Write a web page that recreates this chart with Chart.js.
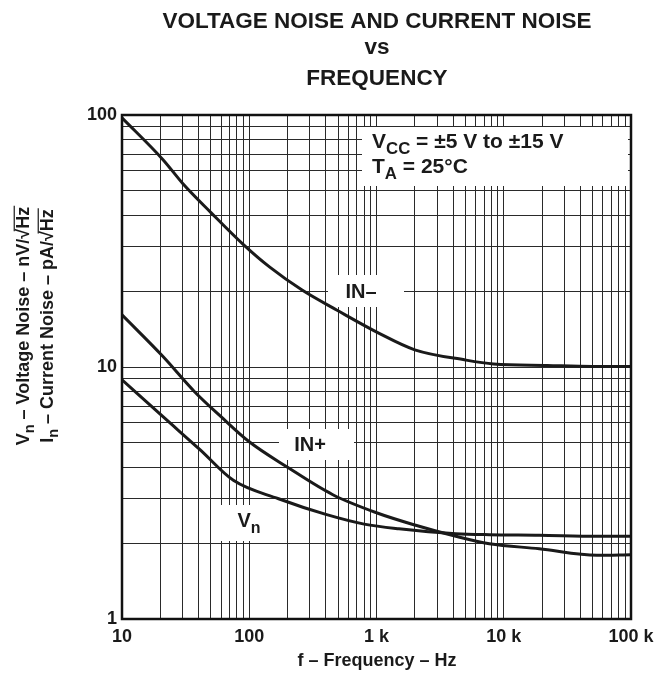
<!DOCTYPE html>
<html>
<head>
<meta charset="utf-8">
<script src="https://cdn.jsdelivr.net/npm/chart.js@4.4.1/dist/chart.umd.min.js"></script>
<style>
  html, body { margin: 0; padding: 0; background: #fff; }
  #wrap { width: 665px; height: 679px; }
</style>
</head>
<body>
<div id="wrap"><canvas id="chart" width="665" height="679"></canvas></div>
<script>
const FONT = '"Liberation Sans", Arial, Helvetica, sans-serif';

// axis ticks (labels only at decades)
const X_TICKS = [10, 100, 1000, 10000, 100000];
const X_LABELS = ["10", "100", "1 k", "10 k", "100 k"];
const Y_TICKS = [1, 10, 100];
const Y_LABELS = ["1", "10", "100"];

// IN- current noise, pA/rtHz
const IN_MINUS_F = [10, 21, 30, 50, 90, 145, 260, 490, 1050, 2000, 5000, 8300, 22000, 50000, 100000];
const IN_MINUS_V = [97.5, 66.5, 53.5, 41, 30.6, 24.9, 20.2, 16.8, 13.6, 11.7, 10.66, 10.28, 10.14, 10.05, 10.05];

// IN+ current noise, pA/rtHz
const IN_PLUS_F = [10, 21, 37, 60, 100, 200, 450, 1000, 2000, 4200, 7700, 19000, 54000, 100000];
const IN_PLUS_V = [16.1, 11.0, 8.0, 6.35, 5.05, 4.0, 3.12, 2.64, 2.36, 2.13, 1.99, 1.9, 1.79, 1.8];

// Vn voltage noise, nV/rtHz
const VN_F = [10, 21, 41, 75, 170, 400, 800, 1500, 4200, 7700, 19000, 54000, 100000];
const VN_V = [8.9, 6.35, 4.7, 3.55, 3.0, 2.6, 2.38, 2.28, 2.18, 2.16, 2.15, 2.13, 2.13];

/* ---------- helpers ---------- */

function toPoints(fs, vs) {
  return fs.map((f, i) => ({ x: f, y: vs[i] }));
}

// 1..9 x each decade between lo and hi
function logGrid(lo, hi) {
  const out = [];
  for (let d = lo; d < hi; d *= 10) {
    for (let m = 1; m < 10; m++) out.push(m * d);
  }
  out.push(hi);
  return out;
}

// text run with subscripts and an overline for the root sign
function richWidth(ctx, parts, size) {
  let w = 0;
  parts.forEach((p) => {
    ctx.font = `bold ${p.sub ? size * 0.8 : size}px ${FONT}`;
    w += ctx.measureText(p.t).width;
  });
  return w;
}

function drawRich(ctx, parts, x, y, size, align) {
  const total = richWidth(ctx, parts, size);
  let cx = align === "center" ? x - total / 2 : x;
  let overStart = null;
  ctx.textBaseline = "alphabetic";
  ctx.textAlign = "left";
  parts.forEach((p) => {
    const s = p.sub ? size * 0.8 : size;
    ctx.font = `bold ${s}px ${FONT}`;
    const w = ctx.measureText(p.t).width;
    if (p.root) overStart = cx + w * 0.75;
    ctx.fillText(p.t, cx, p.sub ? y + size * 0.3 : y);
    if (p.over) {
      const top = y - size * 0.82;
      ctx.save();
      ctx.lineWidth = 1.2;
      ctx.beginPath();
      ctx.moveTo(overStart !== null ? overStart : cx, top);
      ctx.lineTo(cx + w + 1, top);
      ctx.stroke();
      ctx.restore();
    }
    cx += w;
  });
}

function whiteBox(ctx, x0, y0, x1, y1) {
  ctx.fillStyle = "#fff";
  ctx.fillRect(x0, y0, x1 - x0, y1 - y0);
}

/* ---------- plugins ---------- */

const labelsPlugin = {
  id: "noiseLabels",
  beforeDatasetsDraw(chart) {
    const ctx = chart.ctx;
    ctx.save();
    // legend box + curve tags sit on white patches over the grid
    whiteBox(ctx, 362, 127, 628, 186);
    whiteBox(ctx, 328, 275, 404, 307);
    whiteBox(ctx, 279, 429, 354, 460);
    whiteBox(ctx, 213, 505, 277, 541);
    ctx.fillStyle = "#1a1a1a";
    ctx.strokeStyle = "#1a1a1a";
    drawRich(ctx, [{ t: "V" }, { t: "CC", sub: true }, { t: " = \u00b15 V to \u00b115 V" }], 372, 148, 21);
    drawRich(ctx, [{ t: "T" }, { t: "A", sub: true }, { t: " = 25\u00b0C" }], 372, 173, 21);
    drawRich(ctx, [{ t: "IN\u2013" }], 361, 298, 20, "center");
    drawRich(ctx, [{ t: "IN+" }], 310, 451, 20, "center");
    drawRich(ctx, [{ t: "V" }, { t: "n", sub: true }], 249, 527, 20, "center");
    ctx.restore();
  },
  afterDraw(chart) {
    const ctx = chart.ctx;
    const a = chart.chartArea;
    ctx.save();
    ctx.strokeStyle = "#111";
    ctx.lineWidth = 2.5;
    ctx.strokeRect(a.left, a.top, a.right - a.left, a.bottom - a.top);

    ctx.fillStyle = "#1a1a1a";
    ctx.strokeStyle = "#1a1a1a";
    ctx.textAlign = "center";
    ctx.textBaseline = "middle";
    ctx.font = `bold 22.5px ${FONT}`;
    ctx.fillText("VOLTAGE NOISE AND CURRENT NOISE", 377, 22);
    ctx.fillText("vs", 377, 48);
    ctx.fillText("FREQUENCY", 377, 79);

    ctx.font = `bold 18px ${FONT}`;
    ctx.fillText("f \u2013 Frequency \u2013 Hz", 377, 661);

    // rotated y title, two lines
    ctx.save();
    ctx.rotate(-Math.PI / 2);
    drawRich(ctx, [{ t: "V" }, { t: "n", sub: true }, { t: " \u2013 Voltage Noise \u2013 nV/" }, { t: "\u221a", root: true }, { t: "Hz", over: true }], -326, 29, 18, "center");
    drawRich(ctx, [{ t: "I" }, { t: "n", sub: true }, { t: " \u2013 Current Noise \u2013 pA/" }, { t: "\u221a", root: true }, { t: "Hz", over: true }], -326, 53, 18, "center");
    ctx.restore();
    ctx.restore();
  },
};

/* ---------- chart ---------- */

const lineStyle = {
  borderColor: "#1a1a1a",
  borderWidth: 3,
  pointRadius: 0,
  fill: false,
  cubicInterpolationMode: "monotone",
};

const tickFont = { family: FONT, size: 18, weight: "bold" };

new Chart(document.getElementById("chart"), {
  type: "line",
  data: {
    datasets: [
      { label: "IN-", data: toPoints(IN_MINUS_F, IN_MINUS_V), ...lineStyle },
      { label: "IN+", data: toPoints(IN_PLUS_F, IN_PLUS_V), ...lineStyle },
      { label: "Vn", data: toPoints(VN_F, VN_V), ...lineStyle },
    ],
  },
  options: {
    responsive: false,
    animation: false,
    devicePixelRatio: 1,
    layout: { padding: { top: 115, right: 34, left: 0, bottom: 0 } },
    plugins: { legend: { display: false }, tooltip: { enabled: false }, title: { display: false } },
    scales: {
      x: {
        type: "logarithmic",
        min: 10,
        max: 100000,
        afterBuildTicks: (s) => { s.ticks = logGrid(10, 100000).map((v) => ({ value: v })); },
        afterFit: (s) => { s.height = 60; },
        grid: { color: "#2a2a2a", lineWidth: 1, drawTicks: false },
        border: { display: false },
        ticks: {
          autoSkip: false,
          maxRotation: 0,
          color: "#1a1a1a",
          font: tickFont,
          padding: 7,
          callback: (v) => { const i = X_TICKS.indexOf(v); return i < 0 ? "" : X_LABELS[i]; },
        },
      },
      y: {
        type: "logarithmic",
        min: 1,
        max: 100,
        afterBuildTicks: (s) => { s.ticks = logGrid(1, 100).map((v) => ({ value: v })); },
        afterFit: (s) => { s.width = 122; },
        grid: { color: "#2a2a2a", lineWidth: 1, drawTicks: false },
        border: { display: false },
        ticks: {
          autoSkip: false,
          color: "#1a1a1a",
          font: tickFont,
          padding: 5,
          callback: (v) => { const i = Y_TICKS.indexOf(v); return i < 0 ? "" : Y_LABELS[i]; },
        },
      },
    },
  },
  plugins: [labelsPlugin],
});
</script>
</body>
</html>
